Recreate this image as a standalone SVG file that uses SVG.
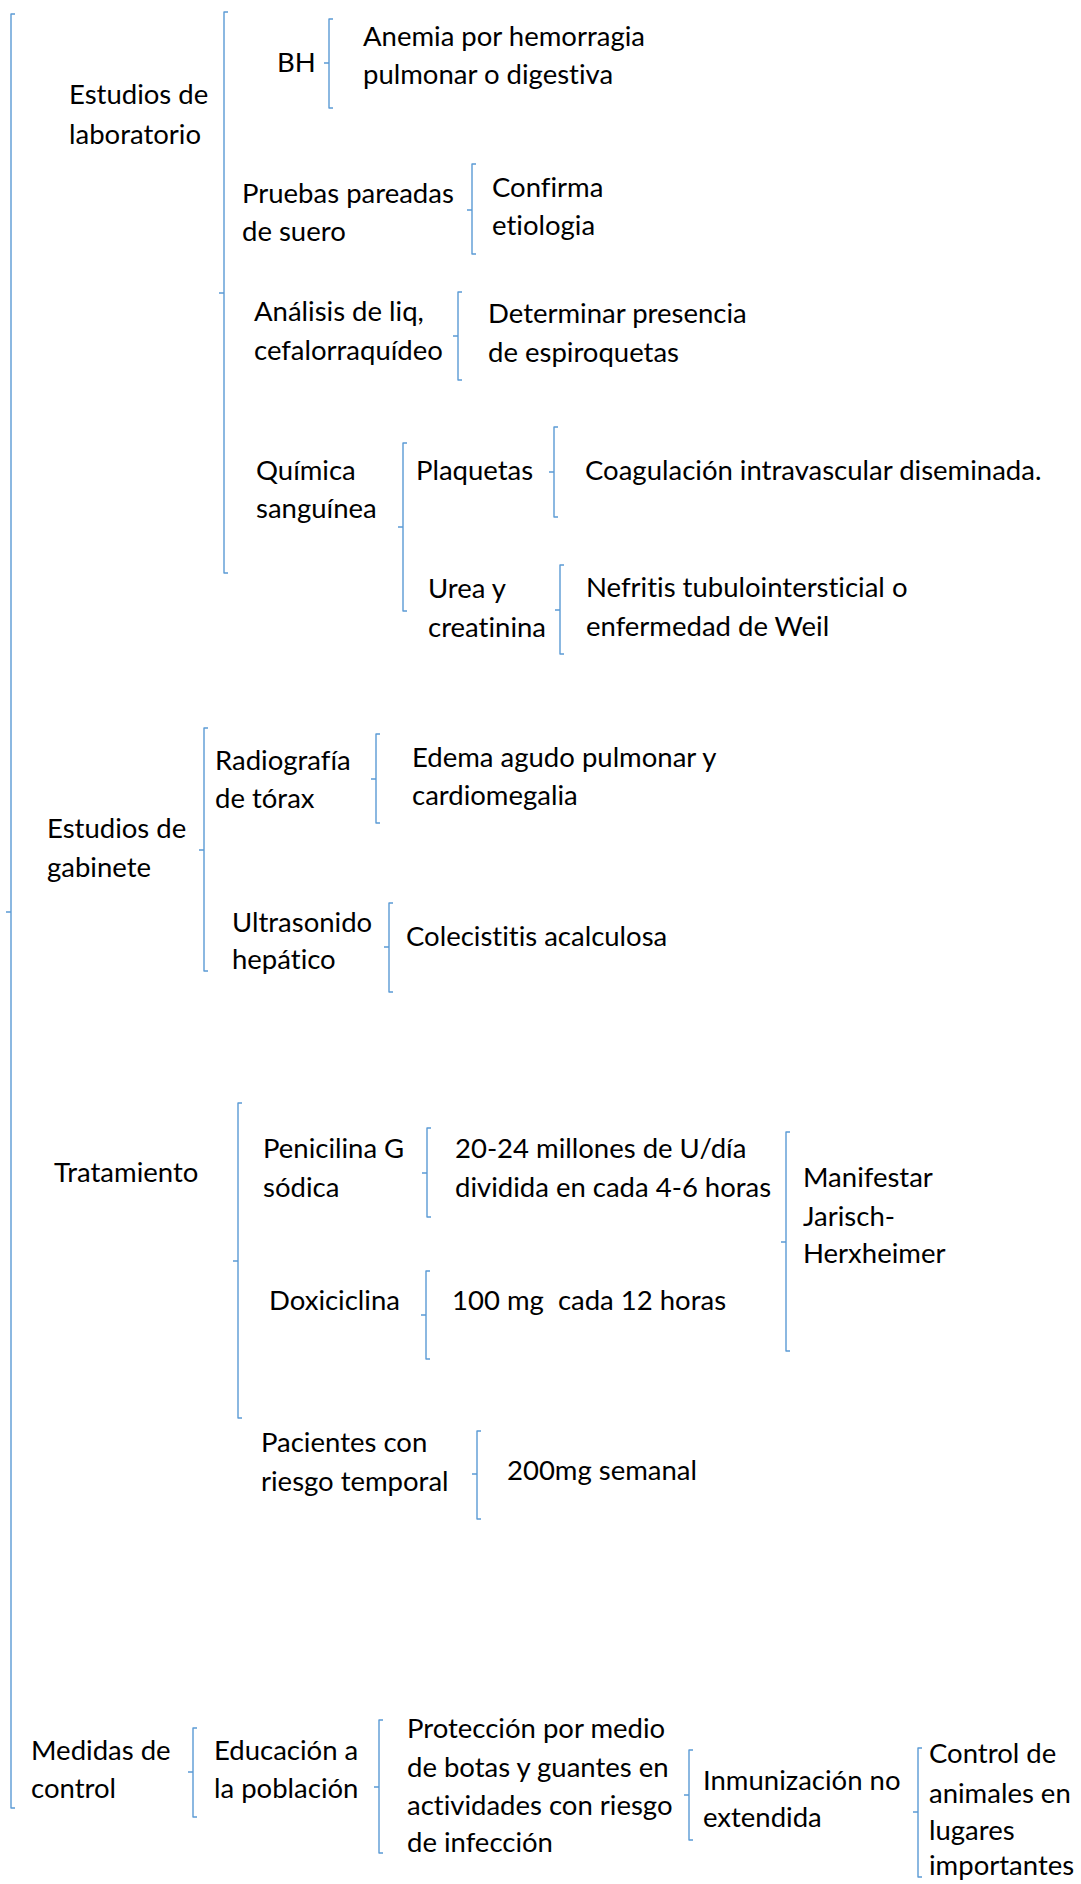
<svg xmlns="http://www.w3.org/2000/svg" width="1081" height="1884" viewBox="0 0 1081 1884">
<style>
text{font-family:Lato,"Liberation Sans",sans-serif;font-size:27.5px;fill:#000;font-variant-ligatures:none;font-feature-settings:"liga" 0,"dlig" 0}
.br{fill:none;stroke:#5B9BD5;stroke-width:1.4;stroke-linejoin:round}
</style>
<rect width="1081" height="1884" fill="#fff"/>
<g id="connectors">
<path class="br" d="M15,14 H11 V1808 H15 M11,912 H6"/>
<path class="br" d="M228,12 H224 V573 H228 M224,293 H219"/>
<path class="br" d="M333,19 H329 V108 H333 M329,63 H324"/>
<path class="br" d="M476,164 H472 V254 H476 M472,210 H467"/>
<path class="br" d="M462,292 H458 V380 H462 M458,336 H453"/>
<path class="br" d="M407,443 H403 V611 H407 M403,527 H398"/>
<path class="br" d="M558,427 H554 V517 H558 M554,472 H549"/>
<path class="br" d="M564,565 H560 V654 H564 M560,610 H555"/>
<path class="br" d="M208,728 H204 V971 H208 M204,850 H199"/>
<path class="br" d="M380,734 H376 V823 H380 M376,779 H371"/>
<path class="br" d="M393,903 H389 V992 H393 M389,947 H384"/>
<path class="br" d="M242,1103 H238 V1418 H242 M238,1261 H233"/>
<path class="br" d="M431,1128 H427 V1217 H431 M427,1173 H422"/>
<path class="br" d="M790,1132 H786 V1351 H790 M786,1242 H781"/>
<path class="br" d="M430,1271 H426 V1359 H430 M426,1315 H421"/>
<path class="br" d="M481,1431 H477 V1519 H481 M477,1474 H472"/>
<path class="br" d="M197,1728 H193 V1817 H197 M193,1772 H188"/>
<path class="br" d="M383,1720 H379 V1853 H383 M379,1787 H374"/>
<path class="br" d="M693,1750 H689 V1840 H693 M689,1795 H684"/>
<path class="br" d="M922,1748 H918 V1877 H922 M918,1812 H913"/>
</g>
<g id="lab"><text x="69" y="104">Estudios de</text><text x="69" y="144">laboratorio</text></g>
<g id="bh"><text x="277" y="72">BH</text></g>
<g id="anemia"><text x="363" y="46">Anemia por hemorragia</text><text x="363" y="84">pulmonar o digestiva</text></g>
<g id="pruebas"><text x="242" y="203">Pruebas pareadas</text><text x="242" y="241">de suero</text></g>
<g id="confirma"><text x="492" y="197">Confirma</text><text x="492" y="235">etiologia</text></g>
<g id="analisis"><text x="254" y="321">Análisis de liq,</text><text x="254" y="360">cefalorraquídeo</text></g>
<g id="determinar"><text x="488" y="323">Determinar presencia</text><text x="488" y="362">de espiroquetas</text></g>
<g id="quimica"><text x="256" y="480">Química</text><text x="256" y="518">sanguínea</text></g>
<g id="plaquetas"><text x="416" y="480">Plaquetas</text></g>
<g id="coagulacion"><text x="585" y="480">Coagulación intravascular diseminada.</text></g>
<g id="urea"><text x="428" y="598">Urea y</text><text x="428" y="637">creatinina</text></g>
<g id="nefritis"><text x="586" y="597">Nefritis tubulointersticial o</text><text x="586" y="636">enfermedad de Weil</text></g>
<g id="gabinete"><text x="47" y="838">Estudios de</text><text x="47" y="877">gabinete</text></g>
<g id="radiografia"><text x="215" y="770">Radiografía</text><text x="215" y="808">de tórax</text></g>
<g id="edema"><text x="412" y="767">Edema agudo pulmonar y</text><text x="412" y="805">cardiomegalia</text></g>
<g id="ultrasonido"><text x="232" y="932">Ultrasonido</text><text x="232" y="969">hepático</text></g>
<g id="colecistitis"><text x="406" y="946">Colecistitis acalculosa</text></g>
<g id="tratamiento"><text x="54" y="1182">Tratamiento</text></g>
<g id="penicilina"><text x="263" y="1158">Penicilina G</text><text x="263" y="1197">sódica</text></g>
<g id="dosis-penicilina"><text x="455" y="1158">20-24 millones de U/día</text><text x="455" y="1197">dividida en cada 4-6 horas</text></g>
<g id="jarisch"><text x="803" y="1187">Manifestar</text><text x="803" y="1226">Jarisch-</text><text x="803" y="1263">Herxheimer</text></g>
<g id="doxiciclina"><text x="269" y="1310">Doxiciclina</text></g>
<g id="dosis-doxi"><text x="452" y="1310" xml:space="preserve">100 mg  cada 12 horas</text></g>
<g id="pacientes"><text x="261" y="1452">Pacientes con</text><text x="261" y="1491">riesgo temporal</text></g>
<g id="semanal"><text x="507" y="1480">200mg semanal</text></g>
<g id="medidas"><text x="31" y="1760">Medidas de</text><text x="31" y="1798">control</text></g>
<g id="educacion"><text x="214" y="1760">Educación a</text><text x="214" y="1798">la población</text></g>
<g id="proteccion"><text x="407" y="1738">Protección por medio</text><text x="407" y="1777">de botas y guantes en</text><text x="407" y="1815">actividades con riesgo</text><text x="407" y="1852">de infección</text></g>
<g id="inmunizacion"><text x="703" y="1790">Inmunización no</text><text x="703" y="1827">extendida</text></g>
<g id="control-animales"><text x="929" y="1763">Control de</text><text x="929" y="1803">animales en</text><text x="929" y="1840">lugares</text><text x="929" y="1875">importantes</text></g>
</svg>
